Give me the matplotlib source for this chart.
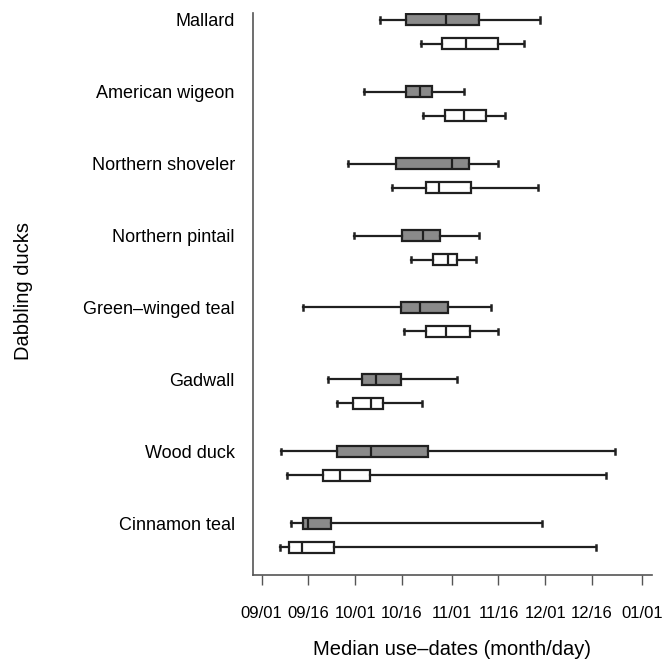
import matplotlib
matplotlib.use('Agg')
import matplotlib.pyplot as plt

plt.rcParams['font.family'] = ['Liberation Sans', 'DejaVu Sans']

# Species, top to bottom
species = ['Mallard', 'American wigeon', 'Northern shoveler', 'Northern pintail',
           'Green\u2013winged teal', 'Gadwall', 'Wood duck', 'Cinnamon teal']

# Days since 09/01: whisker low, Q1, median, Q3, whisker high
gray_low = [38.1, 32.9, 27.8, 29.8, 13.4, 21.3, 6.2, 9.3]
gray_q1 = [46.3, 46.2, 43.0, 44.9, 44.8, 32.3, 24.1, 13.4]
gray_med = [59.2, 50.9, 61.2, 51.8, 50.7, 36.8, 35.2, 15.0]
gray_q3 = [69.7, 54.6, 66.5, 57.4, 59.7, 44.6, 53.5, 22.2]
gray_high = [89.2, 65.0, 75.9, 69.8, 73.7, 62.6, 113.5, 90.1]

white_low = [51.1, 51.8, 41.8, 47.8, 45.6, 24.3, 8.2, 6.0]
white_q1 = [57.8, 58.8, 52.6, 54.9, 52.8, 29.3, 19.6, 8.9]
white_med = [65.7, 65.1, 57.0, 59.7, 59.2, 35.1, 25.3, 13.1]
white_q3 = [75.7, 72.1, 67.3, 62.8, 66.8, 39.1, 34.9, 23.3]
white_high = [84.1, 78.0, 88.8, 68.7, 75.7, 51.5, 110.4, 107.2]

tick_days = [0, 15, 30, 45, 61, 76, 91, 106, 122]
tick_labels = ['09/01', '09/16', '10/01', '10/16', '11/01', '11/16', '12/01', '12/16', '01/01']


def make_stats(low, q1, med, q3, high):
    return [dict(whislo=a, q1=b, med=c, q3=d, whishi=e, fliers=[])
            for a, b, c, d, e in zip(low, q1, med, q3, high)]


fig = plt.figure(figsize=(6.62, 6.64), dpi=100)
ax = fig.add_axes([0.382, 0.134, 0.603, 0.847])

n = len(species)
gray_pos = [n - i for i in range(n)]
white_pos = [p - 1 / 3 for p in gray_pos]

common = dict(vert=False, widths=0.15, patch_artist=True, manage_ticks=False,
              whiskerprops=dict(color='#202020', linewidth=1.6),
              capprops=dict(color='#202020', linewidth=1.8),
              medianprops=dict(color='#202020', linewidth=1.6))

ax.bxp(make_stats(gray_low, gray_q1, gray_med, gray_q3, gray_high), positions=gray_pos,
       boxprops=dict(facecolor='#8a8a8a', edgecolor='#202020', linewidth=1.6), **common)
ax.bxp(make_stats(white_low, white_q1, white_med, white_q3, white_high), positions=white_pos,
       boxprops=dict(facecolor='white', edgecolor='#202020', linewidth=1.6), **common)

ax.set_xlim(-2.8, 125.3)
ax.set_ylim(n - 7.72, n + 0.1)
ax.set_xticks(tick_days)
ax.set_xticklabels(tick_labels, fontsize=12)
ax.set_yticks(gray_pos)
ax.set_yticklabels(species, fontsize=13)
ax.tick_params(axis='y', length=0, pad=13)
ax.tick_params(axis='x', direction='out', length=7, width=1, color='#555555', pad=15)

for side in ['top', 'right']:
    ax.spines[side].set_visible(False)
for side in ['left', 'bottom']:
    ax.spines[side].set_color('#555555')
    ax.spines[side].set_linewidth(1.2)

ax.set_xlabel('Median use\u2013dates (month/day)', fontsize=14.5, labelpad=14)
fig.text(0.035, 0.562, 'Dabbling ducks', rotation=90, fontsize=14.5, ha='center', va='center')

fig.savefig('out.png', dpi=100)
